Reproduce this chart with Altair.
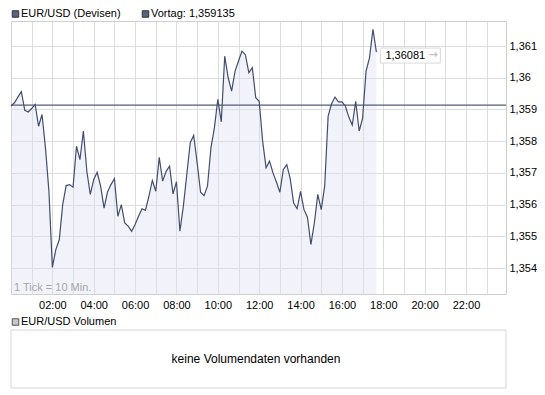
import altair as alt
import pandas as pd

# EUR/USD intraday quotes, one per 10-minute tick starting 00:00
VALUES = [
    1.35911, 1.35921, 1.35939, 1.35956, 1.35897, 1.35892, 1.35903, 1.35916, 1.35847, 1.35884,
    1.35779, 1.35642, 1.35402, 1.35458, 1.35489, 1.35600, 1.35660, 1.35663, 1.35655, 1.35784,
    1.35742, 1.35832, 1.35705, 1.35632, 1.35679, 1.35702, 1.35658, 1.35589, 1.35640, 1.35663,
    1.35682, 1.35563, 1.35600, 1.35542, 1.35532, 1.35516, 1.35537, 1.35563, 1.35587, 1.35582,
    1.35626, 1.35676, 1.35642, 1.35749, 1.35674, 1.35705, 1.35721, 1.35634, 1.35672, 1.35516,
    1.35595, 1.35695, 1.35795, 1.35818, 1.35732, 1.35639, 1.35628, 1.35658, 1.35779, 1.35842,
    1.35932, 1.35861, 1.36068, 1.36000, 1.35958, 1.36021, 1.36053, 1.36084, 1.36072, 1.36016,
    1.36032, 1.35937, 1.35926, 1.35800, 1.35716, 1.35737, 1.35700, 1.35671, 1.35639, 1.35711,
    1.35726, 1.35682, 1.35605, 1.35587, 1.35642, 1.35584, 1.35560, 1.35474, 1.35542, 1.35632,
    1.35584, 1.35658, 1.35879, 1.35918, 1.35939, 1.35924, 1.35924, 1.35911, 1.35876, 1.35851,
    1.35926, 1.35832, 1.35872, 1.36021, 1.36063, 1.36153, 1.36081,
]
TICK_MINUTES = 10
TIMES = [i * TICK_MINUTES for i in range(len(VALUES))]
VORTAG = 1.359135
LAST_LABEL = "1,36081"
Y_TICKS = [1.354, 1.355, 1.356, 1.357, 1.358, 1.359, 1.360, 1.361]
X_GRID = [h * 60 for h in range(1, 24)]
Y_MIN, Y_MAX = 1.35318, 1.36179

LEGEND_MAIN = "EUR/USD (Devisen)"
LEGEND_PREV = "Vortag: 1,359135"
LEGEND_VOL = "EUR/USD Volumen"
NO_VOL = "keine Volumendaten vorhanden"
TICK_NOTE = "1 Tick = 10 Min."

W, H = 495, 273
FONT = "Liberation Sans"
LINE_C = "#434d6c"
PREV_C = "#535c7a"

df = pd.DataFrame({"t": TIMES, "v": VALUES, "base": [Y_MIN] * len(VALUES)})
last = pd.DataFrame({"t": [TIMES[-1]], "v": [VALUES[-1]], "lab": [LAST_LABEL]})
prev = pd.DataFrame({"v": [VORTAG]})
one = pd.DataFrame({"a": [0]})

xs = alt.Scale(domain=[0, 1436], nice=False, zero=False)
ys = alt.Scale(domain=[Y_MIN, Y_MAX], nice=False, zero=False)

x_axis = alt.Axis(
    values=X_GRID,
    labelExpr="datum.value % 120 == 0 ? (floor(datum.value/60) < 10 ? '0' : '') + floor(datum.value/60) + ':00' : ''",
    grid=True, gridColor="#dddddd", gridWidth=1,
    ticks=False, domain=False, labelPadding=5, title=None,
    labelFont=FONT, labelFontSize=11, labelColor="#000000",
    labelOverlap=False, labelFlush=False,
)
y_axis = alt.Axis(
    orient="right", values=Y_TICKS,
    labelExpr="replace(format(datum.value, '.3~f'), '.', ',')",
    grid=True, gridColor="#dddddd", gridWidth=1,
    ticks=False, domain=False, labelPadding=3, title=None,
    labelFont=FONT, labelFontSize=11, labelColor="#000000",
    labelOverlap=False,
)

XA = lambda f="t:Q": alt.X(f, scale=xs, axis=x_axis)
YA = lambda f="v:Q": alt.Y(f, scale=ys, axis=y_axis)

area = alt.Chart(df).mark_area(color="#dde0f1", opacity=0.38).encode(
    x=XA(), y=YA(), y2="base:Q",
)
prev_rule = alt.Chart(prev).mark_rule(color=PREV_C, strokeWidth=1.3).encode(y=YA())
line = alt.Chart(df).mark_line(color=LINE_C, strokeWidth=1.2).encode(x=XA(), y=YA())

callout_box = alt.Chart(last).mark_rect(
    fill="white", stroke="#dadada", strokeWidth=1,
    xOffset=4, x2Offset=64, yOffset=-4, y2Offset=11,
).encode(x=XA(), x2="t:Q", y=YA(), y2="v:Q")
callout_text = alt.Chart(last).mark_text(
    align="left", baseline="middle", dx=9, dy=3.5, font=FONT, fontSize=11, color="#000000"
).encode(x=XA(), y=YA(), text="lab:N")
callout_arrow = alt.Chart(last).mark_text(
    align="left", baseline="middle", dx=52, dy=3, font="DejaVu Sans", fontSize=11,
    fontWeight="bold", color="#c4c4c4", text="→"
).encode(x=XA(), y=YA())

def label(txt, x, y, size=11, color="#000000", align="left"):
    return alt.Chart(pd.DataFrame({"s": [txt]})).mark_text(
        align=align, baseline="middle", font=FONT, fontSize=size, color=color
    ).encode(x=alt.value(x), y=alt.value(y), text="s:N")

def square(x, y, fill, stroke):
    return alt.Chart(one).mark_square(
        size=42, fill=fill, stroke=stroke, strokeWidth=1, opacity=1
    ).encode(x=alt.value(x), y=alt.value(y))

vol_box = alt.Chart(one).mark_rect(fill="white", stroke="#d6d6d6", strokeWidth=1).encode(
    x=alt.value(0), x2=alt.value(W), y=alt.value(309), y2=alt.value(367)
)

chart = alt.layer(
    area, prev_rule, line,
    callout_box, callout_text, callout_arrow,
    square(4.5, -7, "#5b6279", "#2e3244"), label(LEGEND_MAIN, 10, -7),
    square(134.5, -7, "#5b6279", "#2e3244"), label(LEGEND_PREV, 140, -7),
    label(TICK_NOTE, 3, 267, color="#a6a6a6"),
    square(4.5, 301, "#c8c8c8", "#555555"), label(LEGEND_VOL, 10, 301),
    vol_box, label(NO_VOL, 245, 338, size=12, align="center"),
).properties(
    width=W, height=H, padding=0, background="white"
).configure_view(stroke="#cfcfcf", strokeWidth=1)

chart.save("out.html", embed_options={"renderer": "svg", "actions": False})
